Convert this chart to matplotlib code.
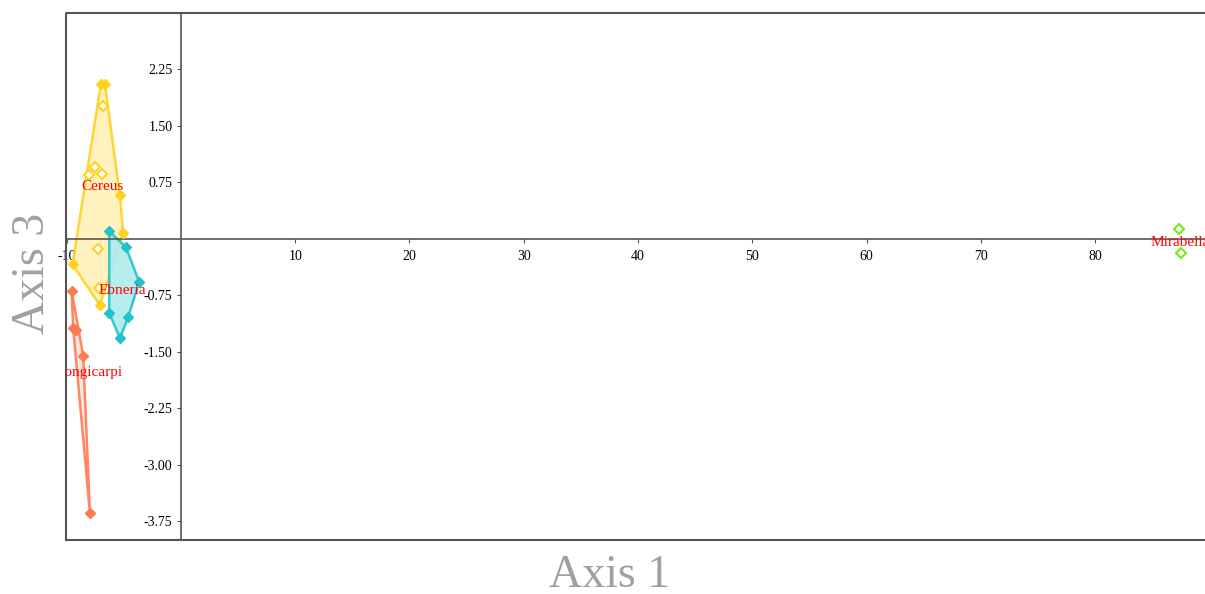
import numpy as np
import matplotlib.pyplot as plt
from matplotlib.patches import Polygon

# PCA scores (axis 1 vs axis 3) per group
groups = ['Cereus', 'Ebneria', 'Longicarpi', 'Mirabella']
colors = ['#FFD21F', '#1FC3CB', '#FF7A50', '#7CE81A']
fills = ['#FFF1B8', '#AEEBEE', '#FFE6DC', '#E4FAD0']
hollow_inner = [True, True, False, True]

cereus_x = [-7.0, -6.65, -6.85, -7.5, -8.08, -6.89, -5.34, -5.05, -7.29, -9.48, -7.2, -7.09]
cereus_y = [2.06, 2.06, 1.76, 0.96, 0.85, 0.86, 0.58, 0.08, -0.14, -0.34, -0.65, -0.88]
ebneria_x = [-6.27, -4.81, -3.65, -4.61, -5.34, -6.27]
ebneria_y = [0.10, -0.11, -0.57, -1.04, -1.32, -0.98]
longi_x = [-9.56, -9.42, -9.19, -8.55, -7.96]
longi_y = [-0.69, -1.19, -1.21, -1.55, -3.64]
mira_x = [87.3, 87.5]
mira_y = [0.13, -0.19]

xs = [cereus_x, ebneria_x, longi_x, mira_x]
ys = [cereus_y, ebneria_y, longi_y, mira_y]

# where the group names sit
label_x = [-6.82, -5.16, -8.05, 87.4]
label_y = [0.69, -0.68, -1.78, -0.05]

xticks = [-10, 10, 20, 30, 40, 50, 60, 70, 80]
yticks = [-3.75, -3.00, -2.25, -1.50, -0.75, 0.75, 1.50, 2.25]


def hull(pts):
    pts = sorted(set(pts))
    if len(pts) < 3:
        return pts
    def cross(o, a, b):
        return (a[0] - o[0]) * (b[1] - o[1]) - (a[1] - o[1]) * (b[0] - o[0])
    lower, upper = [], []
    for p in pts:
        while len(lower) >= 2 and cross(lower[-2], lower[-1], p) <= 0:
            lower.pop()
        lower.append(p)
    for p in reversed(pts):
        while len(upper) >= 2 and cross(upper[-2], upper[-1], p) <= 0:
            upper.pop()
        upper.append(p)
    return lower[:-1] + upper[:-1]


plt.rcParams['font.family'] = 'Liberation Serif'
fig = plt.figure(figsize=(12.05, 5.94), dpi=100)
ax = fig.add_axes([0.0548, 0.0909, 0.9452, 0.8872])
ax.set_xlim(-10.05, 89.6)
ax.set_ylim(-4.0, 3.0)

for i, name in enumerate(groups):
    gx, gy, c, f = xs[i], ys[i], colors[i], fills[i]
    pts = list(zip(gx, gy))
    h = hull(pts)
    if len(h) >= 3:
        ax.add_patch(Polygon(h, closed=True, facecolor=f, edgecolor=c,
                             lw=1.8, alpha=0.9, zorder=2))
        hx, hy = zip(*h)
        ax.plot(hx, hy, 'D', color=c, ms=5, zorder=3)
    inner = [p for p in pts if p not in h or len(h) < 3]
    if inner:
        ix, iy = zip(*inner)
        if hollow_inner[i]:
            ax.plot(ix, iy, 'D', mfc='white', mec=c, mew=1.5, ms=5, ls='none', zorder=3)
        else:
            ax.plot(ix, iy, 'D', color=c, ms=5, ls='none', zorder=3)
    ax.text(label_x[i], label_y[i], name, color='red', fontsize=11,
            ha='center', va='center', zorder=4, clip_on=True)

# axes through the origin, plus a box round the plot area
for side in ['left', 'bottom']:
    ax.spines[side].set_position(('data', 0))
    ax.spines[side].set_color('#555555')
    ax.spines[side].set_linewidth(1.2)
for side in ['right', 'top']:
    ax.spines[side].set_visible(False)
ax.plot([0, 0, 1.01], [0, 1, 1], transform=ax.transAxes, color='#555555',
        lw=1.5, clip_on=False)
ax.plot([0, 1.01], [0, 0], transform=ax.transAxes, color='#555555',
        lw=1.5, clip_on=False)

ax.set_xticks(xticks)
ax.set_xticklabels([str(t) for t in xticks])
ax.set_yticks(yticks)
ax.set_yticklabels(['%.2f' % t for t in yticks])
ax.tick_params(axis='both', labelsize=10, length=3, color='#555555', pad=3)
ax.tick_params(axis='x', pad=5)

fig.text(0.506, 0.012, 'Axis 1', fontsize=33, color='#A0A0A0', ha='center', va='baseline')
fig.text(0.027, 0.539, 'Axis 3', fontsize=33, color='#A0A0A0', ha='center', va='center',
         rotation=90)

fig.savefig('out.png', dpi=100)
